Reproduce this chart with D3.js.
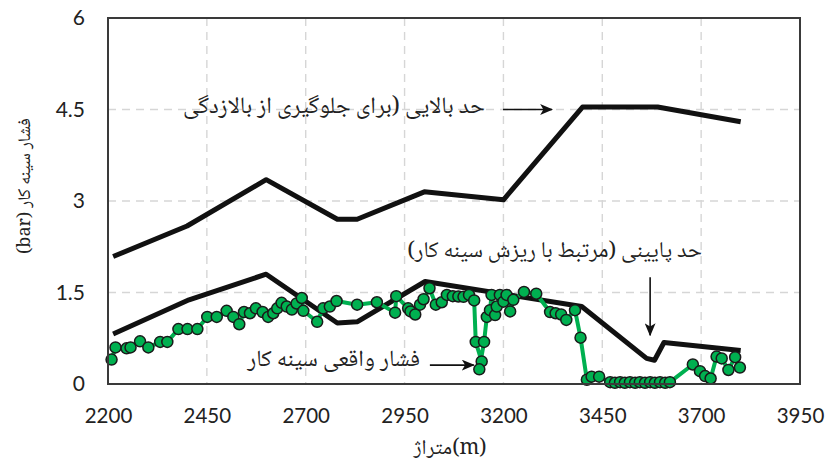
<!DOCTYPE html>
<html><head><meta charset="utf-8">
<script src="https://cdn.jsdelivr.net/npm/d3@7/dist/d3.min.js"></script>
<style>
html,body{margin:0;padding:0;background:#fff;}
svg{display:block;}
</style></head>
<body>
<svg id="chart" width="827" height="470"></svg>
<script>
// ---- data ----
const xTicks = [2200, 2450, 2700, 2950, 3200, 3450, 3700, 3950];
const yTicks = [0, 1.5, 3, 4.5, 6];
const yTickLabels = ["0", "1.5", "3", "4.5", "6"];

const upperX = [2213, 2400, 2600, 2780, 2830, 3000, 3200, 3400, 3590, 3800];
const upperY = [2.09, 2.59, 3.35, 2.70, 2.70, 3.15, 3.02, 4.54, 4.54, 4.30];

const lowerX = [2213, 2405, 2600, 2780, 2830, 3002, 3398, 3562, 3582, 3606, 3800];
const lowerY = [0.82, 1.38, 1.80, 1.00, 1.02, 1.68, 1.27, 0.42, 0.39, 0.68, 0.55];

const actualX = [2209, 2219, 2247, 2257, 2281, 2302, 2332, 2350, 2378, 2401, 2426, 2451, 2475, 2500, 2517, 2532, 2544, 2559, 2574, 2591, 2605, 2618, 2628, 2639, 2652, 2665, 2677, 2690, 2694, 2729, 2744, 2761, 2778, 2830, 2880, 2926, 2929, 2959, 2965, 2977, 2989, 2998, 3013, 3029, 3044, 3057, 3072, 3086, 3099, 3113, 3126, 3130, 3145, 3139, 3151, 3158, 3166, 3170, 3179, 3183, 3191, 3200, 3208, 3217, 3225, 3252, 3283, 3318, 3332, 3346, 3359, 3381, 3395, 3411, 3423, 3442, 3470, 3482, 3495, 3507, 3520, 3533, 3545, 3558, 3571, 3583, 3596, 3609, 3621, 3679, 3697, 3710, 3724, 3739, 3752, 3769, 3786, 3798];
const actualY = [0.40, 0.60, 0.585, 0.60, 0.70, 0.60, 0.69, 0.69, 0.90, 0.90, 0.90, 1.10, 1.10, 1.20, 1.10, 0.98, 1.18, 1.16, 1.24, 1.18, 1.10, 1.16, 1.24, 1.33, 1.27, 1.22, 1.32, 1.41, 1.20, 1.02, 1.24, 1.27, 1.36, 1.30, 1.34, 1.17, 1.44, 1.24, 1.19, 1.14, 1.30, 1.39, 1.57, 1.30, 1.34, 1.46, 1.44, 1.435, 1.43, 1.46, 1.37, 0.69, 0.37, 0.24, 0.69, 1.10, 1.21, 1.46, 1.13, 1.27, 1.46, 1.35, 1.46, 1.19, 1.38, 1.51, 1.48, 1.18, 1.16, 1.14, 1.05, 1.21, 0.76, 0.07, 0.12, 0.12, 0.03, 0.02, 0.03, 0.02, 0.03, 0.02, 0.03, 0.02, 0.03, 0.02, 0.03, 0.02, 0.03, 0.32, 0.21, 0.13, 0.09, 0.45, 0.42, 0.23, 0.44, 0.27];

const xTitle = "متراژ(m)";
const yTitle = "فشار سینه کار (bar)";
const upperLabel = "حد بالایی (برای جلوگیری از بالازدگی";
const lowerLabel = "حد پایینی (مرتبط با ریزش سینه کار)";
const actualLabel = "فشار واقعی سینه کار";

// ---- layout ----
const plot = {left: 108, top: 18, right: 800, bottom: 384};
const svg = d3.select("#chart");

const x = d3.scaleLinear().domain([2200, 3950]).range([plot.left, plot.right]);
const y = d3.scaleLinear().domain([0, 6]).range([plot.bottom, plot.top]);

const numFont = "Lato, 'Open Sans', sans-serif";
const arFont = "'Noto Naskh Arabic', 'Noto Sans Arabic', 'DejaVu Sans', sans-serif";

// gridlines
const grid = svg.append("g");
grid.selectAll("line.v").data(xTicks.slice(1, -1)).enter().append("line")
  .attr("x1", d => x(d)).attr("x2", d => x(d))
  .attr("y1", plot.top).attr("y2", plot.bottom)
  .attr("stroke", "#d6d6d6").attr("stroke-width", 1.4).attr("stroke-dasharray", "8,6");
grid.selectAll("line.h").data(yTicks.slice(1, -1)).enter().append("line")
  .attr("x1", plot.left).attr("x2", plot.right)
  .attr("y1", d => y(d)).attr("y2", d => y(d))
  .attr("stroke", "#d6d6d6").attr("stroke-width", 1.4).attr("stroke-dasharray", "8,6");

// axes tick labels
const xAxis = svg.append("g").attr("transform", `translate(0,${plot.bottom})`)
  .call(d3.axisBottom(x).tickValues(xTicks).tickSize(0).tickPadding(24).tickFormat(d3.format("d")));
xAxis.select(".domain").remove();
xAxis.selectAll("text").attr("font-family", numFont).attr("font-size", 20.5).attr("fill", "#222");

const yAxis = svg.append("g").attr("transform", `translate(${plot.left},0)`)
  .call(d3.axisLeft(y).tickValues(yTicks).tickSize(0).tickPadding(23).tickFormat((d, i) => yTickLabels[i]));
yAxis.select(".domain").remove();
yAxis.selectAll("text").attr("font-family", numFont).attr("font-size", 21).attr("fill", "#222");

// line generator
const line = d3.line().x(d => x(d[0])).y(d => y(d[1]));

// black limit lines
svg.append("path").datum(upperX.map((v, i) => [v, upperY[i]]))
  .attr("d", line).attr("fill", "none").attr("stroke", "#111").attr("stroke-width", 5)
  .attr("stroke-linejoin", "round");
svg.append("path").datum(lowerX.map((v, i) => [v, lowerY[i]]))
  .attr("d", line).attr("fill", "none").attr("stroke", "#111").attr("stroke-width", 5)
  .attr("stroke-linejoin", "round");

// actual series
const actual = actualX.map((v, i) => [v, actualY[i]]);
svg.append("path").datum(actual)
  .attr("d", line).attr("fill", "none").attr("stroke", "#00b050").attr("stroke-width", 4)
  .attr("stroke-linejoin", "round");
svg.append("g").selectAll("circle").data(actual).enter().append("circle")
  .attr("cx", d => x(d[0])).attr("cy", d => y(d[1])).attr("r", 5.5)
  .attr("fill", "#00b050").attr("stroke", "#1a1a1a").attr("stroke-width", 1.5);

// plot frame
svg.append("rect").attr("x", plot.left).attr("y", plot.top)
  .attr("width", plot.right - plot.left).attr("height", plot.bottom - plot.top)
  .attr("fill", "none").attr("stroke", "#3a3a3a").attr("stroke-width", 2);

// arrowhead
const defs = svg.append("defs");
defs.append("marker").attr("id", "arr").attr("viewBox", "0 0 12 10")
  .attr("refX", 11).attr("refY", 5).attr("markerWidth", 13).attr("markerHeight", 11)
  .attr("markerUnits", "userSpaceOnUse").attr("orient", "auto")
  .append("path").attr("d", "M0,0 L12,5 L0,10 L3,5 Z").attr("fill", "#111");

function arrow(x1, y1, x2, y2) {
  svg.append("line").attr("x1", x(x1)).attr("y1", y(y1)).attr("x2", x(x2)).attr("y2", y(y2))
    .attr("stroke", "#111").attr("stroke-width", 1.6).attr("marker-end", "url(#arr)");
}
arrow(3199, 4.5, 3323, 4.5);
arrow(3571, 1.75, 3571, 0.80);
arrow(3014, 0.31, 3125, 0.31);

// labels: right edge (data x), centre y, target width in px
function label(txt, rightX, cy, targetW) {
  const t = svg.append("text").attr("x", x(rightX)).attr("y", y(cy))
    .attr("text-anchor", "start").attr("dominant-baseline", "central")
    .attr("direction", "rtl").style("direction", "rtl")
    .attr("font-family", arFont).attr("font-size", 18).attr("fill", "#222").text(txt);
  const w = t.node().getComputedTextLength();
  t.attr("font-size", 18 * targetW / w);
}
label(upperLabel, 3153, 4.53, 302);
label(lowerLabel, 3702, 2.16, 295);
label(actualLabel, 2989, 0.38, 173);

// axis titles
svg.append("text").attr("x", 450).attr("y", 449)
  .attr("text-anchor", "middle").attr("dominant-baseline", "central")
  .attr("font-family", arFont).attr("font-size", 21).attr("fill", "#222").text(xTitle);

svg.append("text").attr("transform", `translate(26,186) rotate(-90)`)
  .attr("text-anchor", "middle").attr("dominant-baseline", "central")
  .attr("direction", "rtl").style("direction", "rtl")
  .attr("font-family", arFont).attr("font-size", 18).attr("fill", "#222").text(yTitle);
</script>
</body></html>
